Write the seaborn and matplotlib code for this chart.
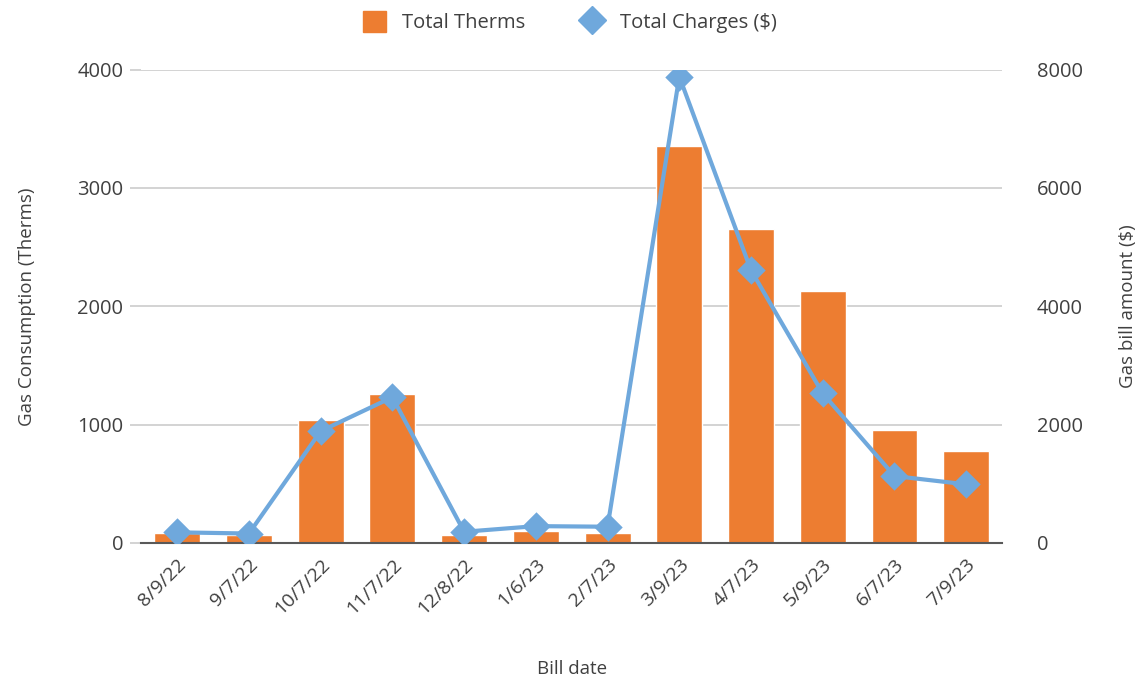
import matplotlib
matplotlib.use("Agg")
import matplotlib.pyplot as plt
import seaborn as sns
import pandas as pd
from matplotlib.lines import Line2D
from matplotlib.patches import Patch

# data
bill_dates = ["8/9/22", "9/7/22", "10/7/22", "11/7/22", "12/8/22", "1/6/23",
              "2/7/23", "3/9/23", "4/7/23", "5/9/23", "6/7/23", "7/9/23"]
total_therms = [88, 71, 1035, 1260, 71, 105, 88, 3350, 2652, 2125, 956, 781]
total_charges = [180, 160, 1890, 2464, 190, 285, 275, 7882, 4608, 2527, 1131, 991]

df = pd.DataFrame({"datum": bill_dates, "therms": total_therms, "charges": total_charges})

oranzova = "#ED7D31"
modra = "#6FA8DC"
seda_text = "#404040"

sns.set_theme(style="white")
plt.rcParams["font.family"] = ["Open Sans", "DejaVu Sans"]

fig = plt.figure(figsize=(11.4, 6.79), dpi=100)
ax = fig.add_axes([0.124, 0.2003, 0.755, 0.6973])
ax2 = ax.twinx()

sns.barplot(data=df, x="datum", y="therms", color=oranzova, width=0.64,
            saturation=1, ax=ax, zorder=2)
sns.pointplot(data=df, x="datum", y="charges", color=modra, markers="D",
              markersize=12, linewidth=3, errorbar=None, ax=ax2)

ax.set_xlim(-0.5, len(bill_dates) - 0.5)
ax.set_ylim(0, 4000)
ax2.set_ylim(0, 8000)
ax.set_yticks([0, 1000, 2000, 3000, 4000])
ax2.set_yticks([0, 2000, 4000, 6000, 8000])

ax.yaxis.grid(True, color="#D0D0D0", linewidth=1.3, zorder=0)
ax.set_axisbelow(True)
for a in (ax, ax2):
    for s in a.spines.values():
        s.set_visible(False)
ax.spines["bottom"].set_visible(True)
ax.spines["bottom"].set_color("#595959")
ax.spines["bottom"].set_linewidth(1.5)

ax.tick_params(axis="y", length=8, color="#D0D0D0", width=1.3, labelsize=14.5,
               labelcolor=seda_text, pad=5)
ax2.tick_params(axis="y", length=0, labelsize=14.5, labelcolor=seda_text, pad=25)
ax.tick_params(axis="x", length=0, labelsize=14, labelcolor=seda_text, pad=9)
plt.setp(ax.get_xticklabels(), rotation=45, ha="right", rotation_mode="anchor")

ax.set_xlabel("Bill date", fontsize=13.5, color=seda_text, labelpad=30)
ax.set_ylabel("Gas Consumption (Therms)", fontsize=13.5, color=seda_text, labelpad=30)
ax2.set_ylabel("Gas bill amount ($)", fontsize=13.5, color=seda_text, labelpad=26)

handles = [Patch(facecolor=oranzova, edgecolor=oranzova),
           Line2D([], [], marker="D", color=modra, linestyle="none", markersize=14)]
fig.legend(handles, ["Total Therms", "Total Charges ($)"], loc="upper center",
           bbox_to_anchor=(0.5, 1.01), ncol=2, frameon=False, fontsize=14.5,
           handlelength=1.1, handleheight=1.2, columnspacing=2.8,
           labelcolor=seda_text)

fig.savefig("out.png", dpi=100)
